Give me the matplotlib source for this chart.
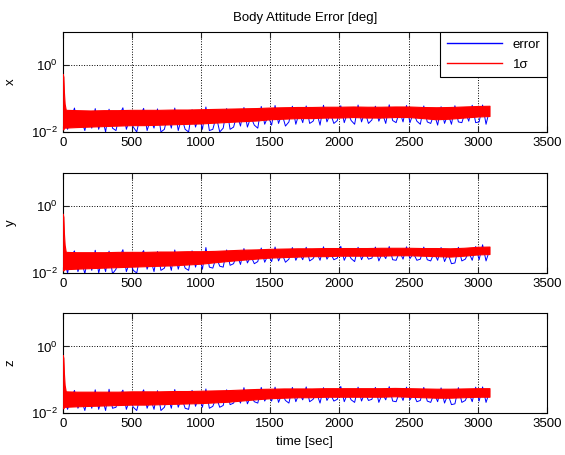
import matplotlib
matplotlib.use('Agg')
import matplotlib.pyplot as plt
from matplotlib.lines import Line2D
import numpy as np

plt.rcParams['font.family'] = ['Liberation Sans', 'DejaVu Sans']
plt.rcParams['font.size'] = 9.5
plt.rcParams['mathtext.default'] = 'regular'

# 1-sigma band, upper/lower edge, values in units of 0.01 deg
t_band = [0, 5, 9, 14, 22, 100, 200, 300, 400, 500, 600, 700, 800, 900, 1000,
          1100, 1200, 1300, 1400, 1500, 1600, 1700, 1800, 1900, 2000, 2100,
          2200, 2300, 2400, 2500, 2600, 2700, 2800, 2900, 3000, 3085]

sig_x_hi = [55, 45, 15, 7, 4.6, 4.5, 4.4, 4.5, 4.5, 4.6, 4.6, 4.6, 4.7, 4.7, 4.8,
            4.9, 5.0, 5.1, 5.2, 5.4, 5.5, 5.6, 5.6, 5.7, 5.7, 5.8, 5.7, 5.7, 5.8,
            5.8, 5.6, 5.5, 5.6, 5.8, 6.0, 6.1]
sig_x_lo = [1.2, 1.2, 1.3, 1.35, 1.35, 1.4, 1.45, 1.5, 1.55, 1.6, 1.6, 1.65, 1.7,
            1.75, 1.8, 1.9, 2.0, 2.1, 2.2, 2.4, 2.5, 2.6, 2.6, 2.7, 2.7, 2.8, 2.7,
            2.7, 2.8, 2.8, 2.6, 2.4, 2.5, 2.7, 2.9, 3.0]

sig_y_hi = [60, 48, 15, 7, 4.3, 4.2, 4.2, 4.2, 4.3, 4.3, 4.3, 4.4, 4.4, 4.5, 4.5,
            4.6, 4.8, 5.0, 5.1, 5.3, 5.4, 5.5, 5.5, 5.6, 5.6, 5.6, 5.6, 5.7, 5.7,
            5.7, 5.6, 5.6, 5.5, 5.7, 6.1, 6.2]
sig_y_lo = [1.2, 1.2, 1.25, 1.3, 1.3, 1.35, 1.4, 1.45, 1.5, 1.55, 1.6, 1.65, 1.7,
            1.8, 1.9, 2.1, 2.3, 2.5, 2.7, 2.9, 3.0, 3.1, 3.2, 3.2, 3.3, 3.3, 3.3,
            3.3, 3.4, 3.4, 3.3, 3.2, 3.1, 3.3, 3.6, 3.7]

sig_z_hi = [55, 45, 15, 7, 4.5, 4.4, 4.4, 4.4, 4.4, 4.5, 4.5, 4.5, 4.6, 4.6, 4.7,
            4.8, 4.9, 5.1, 5.3, 5.4, 5.5, 5.5, 5.5, 5.6, 5.6, 5.6, 5.6, 5.6, 5.7,
            5.6, 5.5, 5.4, 5.4, 5.5, 5.6, 5.6]
sig_z_lo = [1.4, 1.4, 1.5, 1.55, 1.55, 1.6, 1.65, 1.7, 1.75, 1.8, 1.8, 1.85, 1.9,
            1.95, 2.0, 2.1, 2.2, 2.4, 2.6, 2.8, 2.9, 3.0, 3.0, 3.1, 3.1, 3.1, 3.1,
            3.1, 3.2, 3.1, 3.0, 2.9, 2.9, 3.0, 3.1, 3.1]

# error samples every 25 s, units of 0.01 deg
t_err = np.arange(10, 3086, 25)

err_x = [3.0, 1.2, 2.6, 5.2, 1.4, 2.2, 1.1, 3.5, 1.3, 5.0,
         1.2, 2.8, 1.0, 4.8, 1.3, 1.1, 3.2, 5.3, 1.2, 2.5,
         1.4, 1.0, 3.0, 5.1, 1.1, 2.4, 1.3, 4.9, 1.0, 1.2,
         3.4, 1.3, 5.2, 1.1, 2.7, 1.2, 1.0, 4.6, 1.4, 3.1,
         1.2, 5.6, 1.1, 1.2, 2.9, 1.0, 1.3, 5.0, 1.2, 1.4,
         3.3, 1.5, 5.4, 1.4, 2.8, 1.6, 1.3, 5.8, 1.7, 3.0,
         1.6, 6.2, 1.8, 3.5, 1.5, 2.0, 5.9, 1.7, 3.8, 1.9,
         6.0, 1.8, 2.1, 4.0, 1.6, 6.3, 2.0, 3.6, 1.8, 2.2,
         6.1, 1.9, 3.9, 2.2, 1.7, 6.4, 2.0, 4.1, 1.8, 2.3,
         5.9, 2.1, 3.7, 1.8, 6.5, 2.2, 1.9, 4.2, 2.0, 6.2,
         1.9, 3.8, 2.1, 1.7, 6.0, 2.0, 1.8, 3.6, 1.6, 5.7,
         1.8, 3.5, 1.7, 6.1, 2.0, 1.9, 4.0, 2.1, 6.3, 1.9,
         2.0, 6.4, 1.7, 4.5]

err_y = [2.8, 1.0, 3.2, 4.6, 1.1, 2.4, 0.95, 3.6, 1.2, 4.8,
         1.0, 2.6, 1.1, 4.5, 0.95, 1.3, 3.0, 5.0, 1.1, 2.2,
         1.2, 1.0, 3.3, 4.7, 1.3, 2.6, 1.1, 4.4, 1.2, 1.4,
         3.1, 1.2, 4.9, 1.3, 2.9, 1.4, 1.2, 4.6, 1.5, 3.4,
         1.3, 5.8, 1.5, 1.4, 3.0, 1.6, 1.5, 4.9, 1.7, 1.9,
         3.6, 1.8, 5.4, 2.0, 3.2, 1.9, 2.2, 5.6, 2.1, 3.5,
         2.2, 6.0, 2.3, 3.8, 2.1, 2.6, 5.8, 2.4, 4.0, 2.5,
         5.9, 2.3, 2.7, 4.2, 2.4, 6.1, 2.6, 3.9, 2.5, 2.8,
         6.3, 2.4, 4.1, 2.7, 2.2, 5.9, 2.5, 4.3, 2.6, 2.8,
         6.0, 2.3, 4.0, 2.7, 6.2, 2.5, 2.4, 4.4, 2.6, 6.1,
         2.7, 3.9, 2.4, 2.6, 6.0, 2.5, 2.3, 4.1, 2.4, 5.8,
         2.2, 3.8, 1.9, 2.0, 5.9, 2.3, 2.6, 4.2, 2.4, 6.2,
         2.5, 7.0, 2.3, 4.8]

err_z = [3.0, 1.3, 2.8, 4.8, 1.4, 2.5, 1.2, 3.7, 1.4, 5.0,
         1.3, 2.9, 1.2, 5.2, 1.4, 1.5, 3.3, 4.9, 1.3, 2.6,
         1.5, 1.2, 3.1, 5.0, 1.4, 2.7, 1.3, 4.7, 1.2, 1.5,
         3.4, 1.4, 5.1, 1.5, 2.9, 1.4, 1.3, 4.8, 1.6, 3.2,
         1.5, 5.3, 1.4, 1.6, 3.0, 1.5, 1.7, 5.0, 1.8, 2.0,
         3.5, 2.0, 5.8, 1.9, 3.3, 2.2, 2.0, 5.9, 2.3, 3.6,
         2.3, 6.0, 2.1, 3.8, 2.4, 2.0, 5.9, 2.2, 4.0, 2.5,
         6.1, 2.2, 2.6, 4.1, 2.0, 5.8, 2.4, 3.7, 2.3, 2.6,
         6.3, 2.2, 4.0, 2.5, 2.1, 6.0, 2.3, 4.2, 2.4, 2.6,
         5.9, 2.1, 3.9, 2.5, 6.2, 2.3, 2.2, 4.3, 2.4, 6.0,
         2.5, 3.8, 2.2, 2.4, 5.9, 2.3, 2.1, 4.0, 2.2, 5.7,
         2.0, 3.7, 1.8, 1.9, 5.8, 2.1, 2.4, 4.1, 2.2, 6.0,
         2.3, 6.1, 2.1, 4.4]

panels = [('x', err_x, sig_x_hi, sig_x_lo),
          ('y', err_y, sig_y_hi, sig_y_lo),
          ('z', err_z, sig_z_hi, sig_z_lo)]

fig = plt.figure(figsize=(5.65, 4.55), dpi=100)
bottoms = [0.710, 0.400, 0.092]

for (name, err, hi, lo), b in zip(panels, bottoms):
    ax = fig.add_axes([0.111, b, 0.857, 0.220])
    ax.set_axisbelow(True)
    # error first, sigma band painted over it
    ax.plot(t_err, np.array(err) * 1e-2, color='blue', lw=0.7, zorder=2)
    ax.fill_between(t_band, np.array(lo) * 1e-2, np.array(hi) * 1e-2,
                    color='red', lw=0.8, zorder=3)
    ax.set_yscale('log')
    ax.set_xlim(0, 3500)
    ax.set_ylim(1e-2, 1e1)
    ax.set_yticks([1e-2, 1e0])
    ax.minorticks_off()
    ax.set_xticks(np.arange(0, 3501, 500))
    ax.grid(True, color='black', linestyle=':', lw=0.7)
    ax.tick_params(direction='in', length=4, top=True, right=True,
                   colors='#222222', labelcolor='black')
    ax.set_ylabel(name, labelpad=10)
    for s in ax.spines.values():
        s.set_linewidth(0.8)
    if name == 'x':
        ax.set_title('Body Attitude Error [deg]', fontsize=9.5, pad=8)
        handles = [Line2D([], [], color='blue', lw=1),
                   Line2D([], [], color='red', lw=1)]
        leg = ax.legend(handles, ['error', '1σ'], loc='upper right',
                        borderaxespad=0, handlelength=4.2, fancybox=False,
                        framealpha=1, edgecolor='black', borderpad=0.5,
                        labelspacing=0.6)
        leg.get_frame().set_linewidth(0.8)
        leg.set_zorder(5)
    if name == 'z':
        ax.set_xlabel('time [sec]')

fig.savefig('out.png', dpi=100)
